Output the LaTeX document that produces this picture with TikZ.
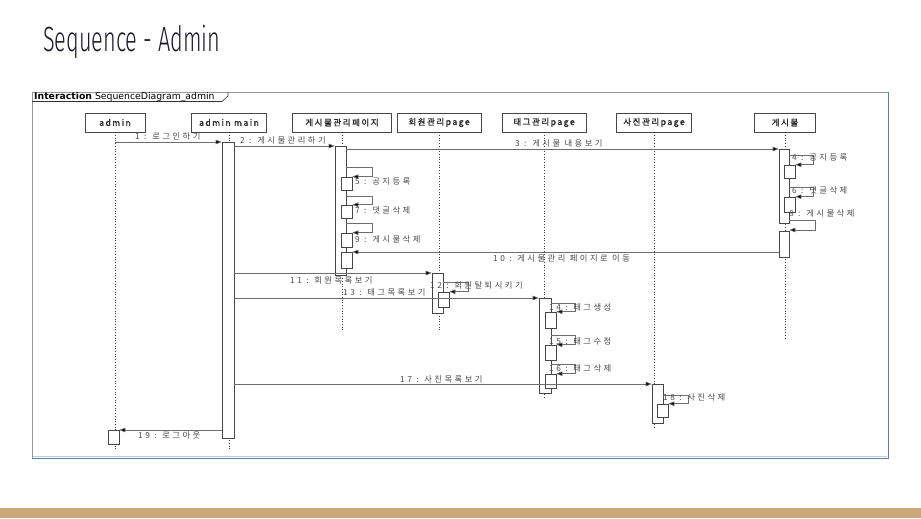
\documentclass[tikz,border=0pt]{standalone}
\usepackage{fontspec}
\usetikzlibrary{arrows.meta}
\newfontfamily\titlefont[FakeStretch=0.62]{Fira Sans Light}
\newfontfamily\krfont[LetterSpace=30]{Noto Sans CJK KR}
\newfontfamily\krhead[LetterSpace=18,FakeBold=1.3]{Noto Sans CJK KR}
\newfontfamily\uifont{DejaVu Sans}
\definecolor{ink}{RGB}{70,70,70}
\definecolor{msgline}{RGB}{110,110,110}
\definecolor{framegray}{RGB}{150,150,150}
\definecolor{frameblue}{RGB}{95,125,175}
\definecolor{tan}{RGB}{203,167,122}
\definecolor{titleink}{RGB}{25,25,40}
% activation bar: name, x1, y1, x2, y2 (pixel grid, y downwards)
\newcommand\actnode[5]{\node[actbar,minimum width={(#4-#2)*1pt},minimum height={(#5-#3)*1pt}] (#1) at ({(#2+#4)/2},{(#3+#5)/2}) {};}
\tikzset{
  headbox/.style={draw=ink,fill=white,line width=0.6pt,minimum height=19pt,inner sep=2pt,font=\krhead\fontsize{8.5}{9}\selectfont,text=black!85},
  actbar/.style={draw=ink,fill=white,line width=0.6pt,inner sep=0pt,rectangle},
  lifeline/.style={draw=black!75,line width=0.7pt,dotted},
  msg/.style={draw=msgline,line width=0.6pt,-{Triangle[length=6pt,width=4.5pt,fill=black]}},
  lbl/.style={font=\krfont\fontsize{8.3}{9}\selectfont,text=black!70,inner sep=0pt,anchor=base west},
}
\begin{document}
\begin{tikzpicture}[x=1pt,y=-1pt]
\useasboundingbox (0,0) rectangle (921,519);
\fill[white] (0,0) rectangle (921,519);

% slide title and footer band
\node[anchor=base west,inner sep=0pt,font=\titlefont\fontsize{35}{40}\selectfont,text=titleink] (title) at (43,52) {Sequence - Admin};
\fill[tan] (0,508) rectangle (921,518);

% interaction frame
\draw[framegray,line width=0.8pt] (32,458) -- (32,92) -- (888,92);
\draw[frameblue!40,line width=0.8pt] (33,456) -- (887,456);
\draw[frameblue,line width=1.6pt] (32,458.5) -- (889,458.5);
\draw[frameblue,line width=1.6pt] (888.5,92) -- (888.5,459);
\draw[black!80,line width=0.6pt] (32,101.5) -- (222,101.5) -- (228,96) -- (228,92);
\node[anchor=base west,inner sep=0pt,font=\uifont\fontsize{9.3}{10}\selectfont] (frametag) at (34,99.8) {\textbf{Interaction} SequenceDiagram\_admin};

% lifeline heads
\node[headbox,minimum width=60pt] (hAdmin) at (115,122.5) {admin};
\node[headbox,minimum width=75pt] (hMain) at (229,122.5) {admin main};
\node[headbox,minimum width=99pt] (hBoard) at (342,122.5) {게시물관리페이지};
\node[headbox,minimum width=84pt] (hMember) at (439,122.5) {회원관리page};
\node[headbox,minimum width=84pt] (hTag) at (544,122.5) {태그관리page};
\node[headbox,minimum width=75pt] (hPhoto) at (654,122.5) {사진관리page};
\node[headbox,minimum width=61pt] (hPost) at (785,122.5) {게시물};

% lifelines
\coordinate (eAdmin) at (115,450);
\coordinate (eMain) at (229,450);
\coordinate (eBoard) at (342,330);
\coordinate (eMember) at (439,330);
\coordinate (eTag) at (545,398);
\coordinate (ePhoto) at (658,428);
\coordinate (ePost) at (785,340);
\draw[lifeline] (hAdmin.south) -- (hAdmin.south |- eAdmin);
\draw[lifeline] (hMain.south) -- (hMain.south |- eMain);
\draw[lifeline] (hBoard.south) -- (hBoard.south |- eBoard);
\draw[lifeline] (hMember.south) -- (hMember.south |- eMember);
\draw[lifeline] (hTag.south) -- (hTag.south |- eTag);
\draw[lifeline] (hPhoto.south) -- (hPhoto.south |- ePhoto);
\draw[lifeline] (hPost.south) -- (hPost.south |- ePost);

% activation bars
\actnode{aAdmin}{108}{430}{119}{444}
\actnode{aMain}{222}{142}{234}{438}
\actnode{aBoard}{335}{146}{346}{275}
\actnode{n5}{341}{177}{352}{190}
\actnode{n7}{341}{205}{352}{218}
\actnode{n9}{341}{233}{352}{247}
\actnode{n10}{341}{252}{352}{268}
\actnode{aPost}{779}{149}{789}{223}
\actnode{aPost2}{779}{231}{789}{257}
\actnode{n4}{784}{165}{795}{178}
\actnode{n6}{784}{197}{795}{212}
\actnode{aMember}{432}{273}{443}{313}
\actnode{n12}{438}{292}{449}{307}
\actnode{aTag}{539}{298}{551}{393}
\actnode{n14}{545}{312}{556}{328}
\actnode{n15}{545}{345}{556}{360}
\actnode{n16}{545}{374}{556}{388}
\actnode{aPhoto}{652}{384}{663}{423}
\actnode{n18}{657}{404}{668}{417}

% messages
\draw[msg] (hAdmin.south |- 0,142) -- (aMain.west |- 0,142);
\draw[msg] (aMain.east |- 0,146) -- (aBoard.west |- 0,146);
\draw[msg] (aBoard.east |- 0,149) -- (aPost.west |- 0,149);
\draw[msg] (aPost.east |- 0,155) -- ++(24,0) |- (n4.north east);
\draw[msg] (aBoard.east |- 0,167) -- ++(26,0) |- (n5.north east);
\draw[msg] (aPost.east |- 0,187) -- ++(24,0) |- (n6.north east);
\draw[msg] (aBoard.east |- 0,196) -- ++(26,0) |- (n7.north east);
\draw[msg] (aPost.east |- 0,220) -- ++(26,0) |- (aPost2.east |- 0,230);
\draw[msg] (aBoard.east |- 0,223) -- ++(26,0) |- (n9.north east);
\draw[msg] (aPost2.west |- 0,252) -- (n10.east |- 0,252);
\draw[msg] (aMain.east |- 0,273) -- (aMember.west |- 0,273);
\draw[msg] (aMember.east |- 0,282) -- ++(25,0) |- (n12.north east);
\draw[msg] (aMain.east |- 0,298) -- (aTag.west |- 0,298);
\draw[msg] (aTag.east |- 0,303) -- ++(24,0) |- (n14.north east);
\draw[msg] (aTag.east |- 0,335) -- ++(24,0) |- (n15.north east);
\draw[msg] (aTag.east |- 0,364) -- ++(24,0) |- (n16.north east);
\draw[msg] (aMain.east |- 0,384) -- (aPhoto.west |- 0,384);
\draw[msg] (aPhoto.east |- 0,395) -- ++(25,0) |- (n18.north east);
\draw[msg] (aMain.west |- 0,430) -- (aAdmin.east |- 0,430);

% message labels
\node[lbl] (l1) at (135,139) {1 : 로그인하기};
\node[lbl] (l2) at (240,143) {2 : 게시물관리하기};
\node[lbl] (l3) at (515,146) {3 : 게시물 내용보기};
\node[lbl] (l4) at (792,160) {4 : 공지등록};
\node[lbl] (l5) at (355,184) {5 : 공지등록};
\node[lbl] (l6) at (792,193) {6 : 댓글삭제};
\node[lbl] (l7) at (355,213) {7 : 댓글삭제};
\node[lbl] (l8) at (789,216) {8 : 게시물삭제};
\node[lbl] (l9) at (355,242) {9 : 게시물삭제};
\node[lbl] (l10) at (493,261) {10 : 게시물관리 페이지로 이동};
\node[lbl] (l11) at (290,283) {11 : 회원목록보기};
\node[lbl] (l12) at (430,288) {12 : 회원탈퇴시키기};
\node[lbl] (l13) at (343,295) {13 : 태그목록보기};
\node[lbl] (l14) at (549,310) {14 : 태그생성};
\node[lbl] (l15) at (549,344) {15 : 태그수정};
\node[lbl] (l16) at (549,371) {16 : 태그삭제};
\node[lbl] (l17) at (400,382) {17 : 사진목록보기};
\node[lbl] (l18) at (663,400) {18 : 사진삭제};
\node[lbl] (l19) at (138,438) {19 : 로그아웃};
\end{tikzpicture}
\end{document}
